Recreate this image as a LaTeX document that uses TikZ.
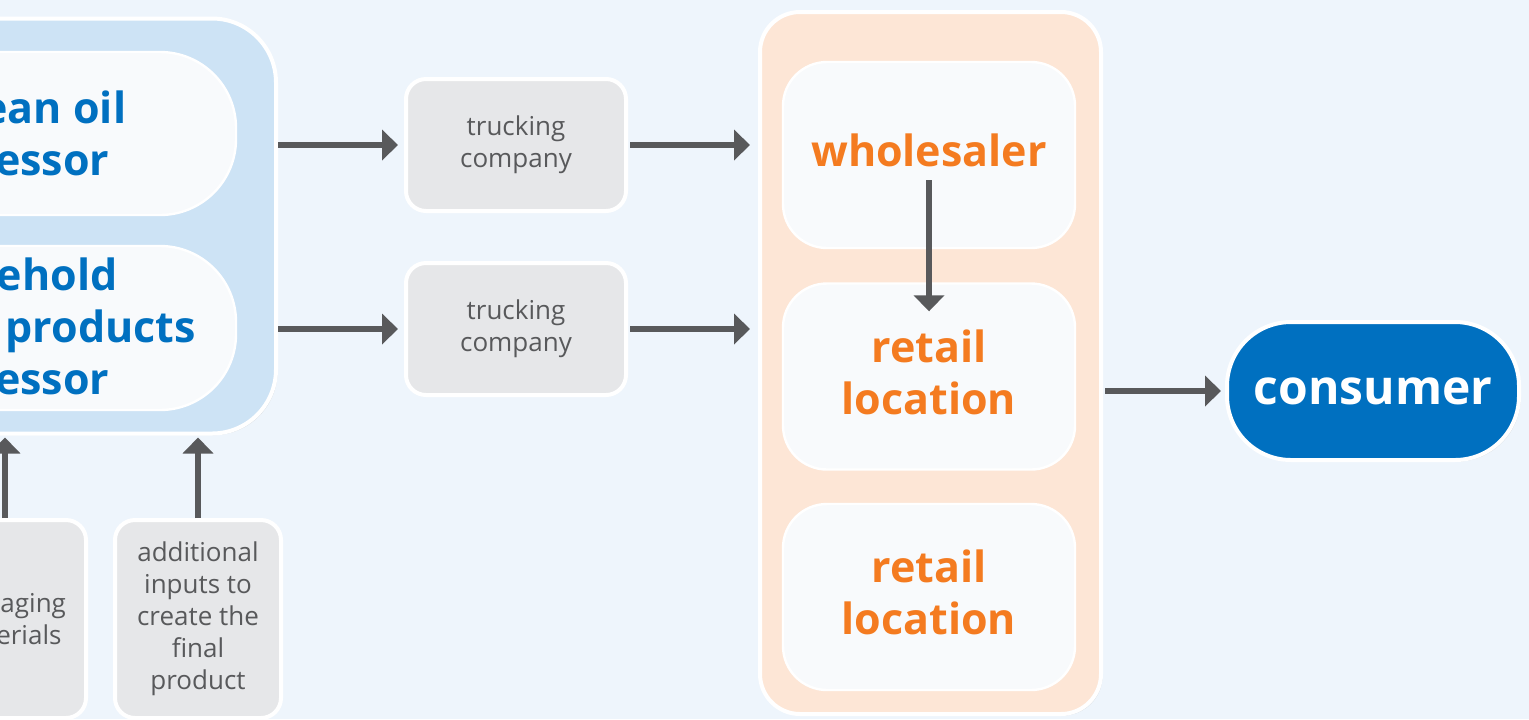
\documentclass[tikz,border=0pt]{standalone}
\usepackage{fontspec}
\setmainfont{Open Sans}
\usepackage{xcolor}
\usepackage{tikz}
\usetikzlibrary{arrows.meta,shadows}
\definecolor{canvas}{HTML}{EEF5FC}
\definecolor{maker}{HTML}{CDE3F5}
\definecolor{seller}{HTML}{FDE6D6}
\definecolor{card}{HTML}{F8FAFC}
\definecolor{haul}{HTML}{E6E7E9}
\definecolor{ink}{HTML}{58595B}
\definecolor{deepblue}{HTML}{0070C0}
\definecolor{tangerine}{HTML}{F47B20}
\newcommand{\headfont}{\bfseries\fontsize{21.5}{26}\selectfont}
\tikzset{
  tray/.style    = {rectangle, draw=white, line width=2pt, fill=#1,
                    drop shadow={shadow xshift=0.8pt, shadow yshift=-0.8pt, opacity=0.25}},
  stage/.style   = {rectangle, draw=white, line width=1.2pt, fill=card, text=#1,
                    align=center, font=\headfont, text depth=4.5pt},
  haulbox/.style = {rectangle, rounded corners=10pt, draw=white, line width=2pt, fill=haul,
                    text=ink, align=center, font=\fontsize{13}{16}\selectfont},
  flow/.style    = {-{Triangle[length=8pt,width=15pt]}, line width=2.75pt, draw=ink},
}

\begin{document}
\begin{tikzpicture}[x=0.5pt, y=-0.5pt]
  \fill[canvas] (0,0) rectangle (1529,719);
  \useasboundingbox (0,0) rectangle (1529,719);
  % makers
  \node[tray=maker, rounded corners=32pt, minimum width=277pt, minimum height=207.5pt] (proc) at (-1,226) {};
  \node[stage=deepblue, rounded corners=38pt, minimum width=231pt, minimum height=81.5pt, text depth=0pt] (soy) at (5,133.5) {soybean oil\\processor};
  \node[stage=deepblue, rounded corners=38pt, minimum width=231pt, minimum height=82pt, text depth=2pt] (clean) at (5,328) {household\\cleaning products\\processor};
  \node[haulbox, minimum width=81pt, minimum height=99pt] (pack) at (5,619) {packaging\\materials};
  \node[haulbox, minimum width=83pt, minimum height=99pt] (extra) at (198,619) {additional\\inputs to\\create the\\final\\product};
  % carriers
  \node[haulbox, minimum width=110pt, minimum height=66pt] (truckA) at (516,145) {trucking\\company};
  \node[haulbox, minimum width=110pt, minimum height=66pt] (truckB) at (516,329) {trucking\\company};
  % sellers
  \node[tray=seller, rounded corners=20pt, minimum width=170.5pt, minimum height=351pt] (trade) at (930.5,363) {};
  \node[stage=tangerine, rounded corners=22pt, minimum width=146pt, minimum height=93pt] (whole) at (929,155) {wholesaler};
  \node[stage=tangerine, rounded corners=22pt, minimum width=146pt, minimum height=93pt] (shopA) at (929,376.5) {retail\\location};
  \node[stage=tangerine, rounded corners=22pt, minimum width=146pt, minimum height=93pt] (shopB) at (929,597) {retail\\location};
  \node[tray=deepblue, rounded corners=32pt, text=white, font=\bfseries\fontsize{24}{28}\selectfont,
        minimum width=146pt, minimum height=69pt] (buyer) at (1373,391) {consumer};
  % flows
  \draw[flow, shorten >=1pt] (pack.north) -- (pack.north |- proc.south);
  \draw[flow, shorten >=1pt] (extra.north) -- (extra.north |- proc.south);
  \draw[flow, shorten >=3pt] (proc.east |- truckA) -- (truckA.west);
  \draw[flow, shorten >=3pt] (proc.east |- truckB) -- (truckB.west);
  \draw[flow, shorten <=1pt, shorten >=4pt] (truckA.east) -- (truckA -| trade.west);
  \draw[flow, shorten <=1pt, shorten >=4pt] (truckB.east) -- (truckB -| trade.west);
  \draw[flow] ([yshift=-12.5pt]whole.center) -- ([yshift=-14.5pt]shopA.north);
  \draw[flow, shorten <=1pt, shorten >=2pt] (trade.east |- buyer) -- (buyer.west);
\end{tikzpicture}
\end{document}
